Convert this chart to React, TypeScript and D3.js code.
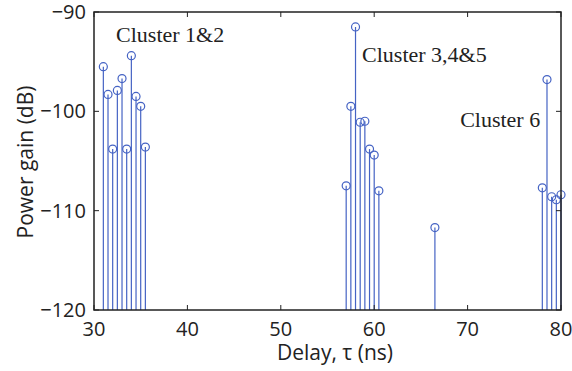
import React from "react";
import * as d3 from "d3";

// Multipath delay profile: path delay (ns) and power gain (dB)
const delays = [
  31.0, 31.5, 32.0, 32.5, 33.0, 33.5, 34.0, 34.5, 35.0, 35.5,
  57.0, 57.5, 58.0, 58.5, 59.0, 59.5, 60.0, 60.5,
  66.5,
  78.0, 78.5, 79.0, 79.5, 80.0,
];
const gains = [
  -95.5, -98.3, -103.8, -97.9, -96.7, -103.8, -94.4, -98.5, -99.5, -103.6,
  -107.5, -99.5, -91.5, -101.1, -101.0, -103.8, -104.4, -108.0,
  -111.7,
  -107.7, -96.8, -108.6, -108.9, -108.4,
];
const xTicks = [30, 40, 50, 60, 70, 80];
const yTicks = [-120, -110, -100, -90];
const clusterLabels = ["Cluster 1&2", "Cluster 3,4&5", "Cluster 6"];
const labelAnchors = [
  { x: 32.36, y: -93.0 },
  { x: 58.7, y: -95.0 },
  { x: 69.2, y: -101.6 },
];

const W = 572;
const H = 371;
const L = 94, R = 561, T = 12, B = 310;
const STEM = "#4563c4";
const SANS = "'Open Sans', 'Noto Sans', sans-serif";
const SERIF = "'Liberation Serif', 'DejaVu Serif', serif";

export default function App() {
  const x = d3.scaleLinear().domain([30, 80]).range([L, R]);
  const y = d3.scaleLinear().domain([-120, -90]).range([B, T]);
  const tl = 5;
  return (
    <svg width={W} height={H} style={{ position: "absolute", left: 0, top: 0 }}>
      <rect width={W} height={H} fill="#fff" />
      {/* stems */}
      {delays.map((d, i) => (
        <g key={i}>
          <line x1={x(d)} x2={x(d)} y1={y(-120)} y2={y(gains[i])} stroke={STEM} strokeWidth={1.2} />
          <circle cx={x(d)} cy={y(gains[i])} r={4} fill="none" stroke={STEM} strokeWidth={1.2} />
        </g>
      ))}
      {/* axes box */}
      <rect x={L} y={T} width={R - L} height={B - T} fill="none" stroke="#222" strokeWidth={1.5} />
      {xTicks.map((t) => (
        <g key={"x" + t}>
          <line x1={x(t)} x2={x(t)} y1={B} y2={B - tl} stroke="#222" strokeWidth={1} />
          <line x1={x(t)} x2={x(t)} y1={T} y2={T + tl} stroke="#222" strokeWidth={1} />
          <text x={x(t)} y={B + 26} textAnchor="middle" fontFamily={SANS} fontSize={20} fill="#222">
            {t}
          </text>
        </g>
      ))}
      {yTicks.map((t) => (
        <g key={"y" + t}>
          <line x1={L} x2={L + tl} y1={y(t)} y2={y(t)} stroke="#222" strokeWidth={1} />
          <line x1={R} x2={R - tl} y1={y(t)} y2={y(t)} stroke="#222" strokeWidth={1} />
          <text x={L - 8} y={y(t) + 7} textAnchor="end" fontFamily={SANS} fontSize={20} fill="#222">
            {t < 0 ? "\u2212" + Math.abs(t) : t}
          </text>
        </g>
      ))}
      <text x={335} y={360} textAnchor="middle" fontFamily={SANS} fontSize={21} fill="#222">
        Delay, τ (ns)
      </text>
      <text
        transform={`translate(33, 162) rotate(-90)`}
        textAnchor="middle"
        fontFamily={SANS}
        fontSize={21}
        fill="#222"
      >
        Power gain (dB)
      </text>
      {clusterLabels.map((s, i) => (
        <text key={s} x={x(labelAnchors[i].x)} y={y(labelAnchors[i].y)} fontFamily={SERIF} fontSize={22} fill="#222">
          {s}
        </text>
      ))}
    </svg>
  );
}
